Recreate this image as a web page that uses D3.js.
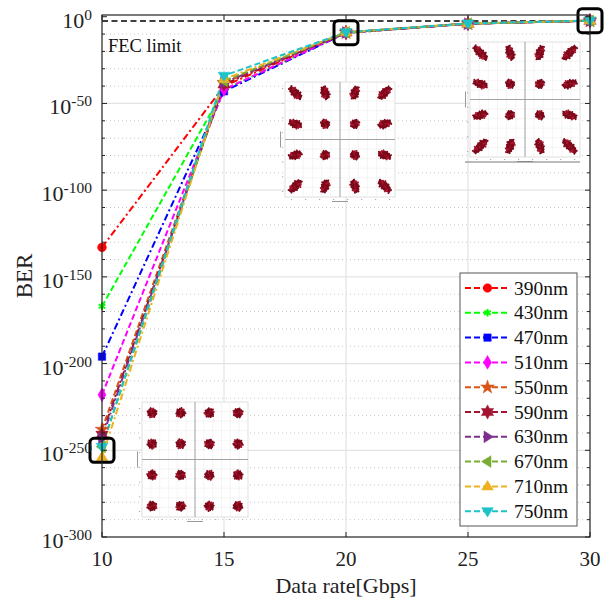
<!DOCTYPE html>
<html>
<head>
<meta charset="utf-8">
<script src="https://cdn.jsdelivr.net/npm/d3@7"></script>
<style>
  html, body { margin: 0; padding: 0; background: #fff; }
  svg, svg text { font-family: "Liberation Serif", "Times New Roman", "DejaVu Serif", serif; }
</style>
</head>
<body>
<svg id="chart" width="614" height="608"></svg>
<script>
// ---------------- data ----------------
const dataRates = [10, 15, 20, 25, 30];
const seriesNames = ["390nm", "430nm", "470nm", "510nm", "550nm", "590nm", "630nm", "670nm", "710nm", "750nm"];
const ber390 = [1e-133, 1e-40, 6e-10, 1e-4, 5e-3];
const ber430 = [1e-167, 1e-42, 5e-10, 1e-4, 5e-3];
const ber470 = [1e-196, 1e-43, 5e-10, 1e-4, 5e-3];
const ber510 = [1e-218, 1e-42, 6e-10, 1e-4, 5e-3];
const ber550 = [1e-238, 1e-38, 8e-10, 1e-4, 5e-3];
const ber590 = [1e-241, 1e-39, 8e-10, 1e-4, 5e-3];
const ber630 = [1e-243, 1e-38, 9e-10, 1e-4, 5e-3];
const ber670 = [1e-248, 1e-37, 9e-10, 1e-4, 5e-3];
const ber710 = [1e-254, 1e-36, 1e-9, 1.2e-4, 6e-3];
const ber750 = [1e-248, 1e-34, 1.2e-9, 1.3e-4, 6e-3];
const seriesValues = [ber390, ber430, ber470, ber510, ber550, ber590, ber630, ber670, ber710, ber750];
const fecLimit = 3.8e-3;
const xTickValues = [10, 15, 20, 25, 30];
const yTickExponents = [0, -50, -100, -150, -200, -250, -300];
const highlighted = [[10, 1e-250], [20, 6e-10], [30, 5e-3]];

// ---------------- styles ----------------
const FONT = "'Liberation Serif', 'Times New Roman', 'DejaVu Serif', serif";
const colors = ["#ff0000", "#00ff00", "#0000ff", "#ff00ff", "#d95319", "#a2142f", "#7e2f8e", "#77ac30", "#edb120", "#1cc3c8"];
const dashes = ["7,3,2,3", "6,3", "7,3,2,3", "6,3", "6,3", "7,3,2,3", "7,3,2,3", "6,3", "7,3,2,3", "6,3"];

const hexagram = {
  draw(ctx, size) {
    const R = Math.sqrt(size) * 0.75, r = R * 0.55;
    for (let i = 0; i < 12; i++) {
      const a = -Math.PI / 2 + i * Math.PI / 6;
      const rr = i % 2 === 0 ? R : r;
      const px = rr * Math.cos(a), py = rr * Math.sin(a);
      if (i === 0) ctx.moveTo(px, py); else ctx.lineTo(px, py);
    }
    ctx.closePath();
  }
};
const triRight = { draw(ctx, size) { const s = Math.sqrt(size) * 0.62; ctx.moveTo(s, 0); ctx.lineTo(-s * 0.6, -s); ctx.lineTo(-s * 0.6, s); ctx.closePath(); } };
const triLeft = { draw(ctx, size) { const s = Math.sqrt(size) * 0.62; ctx.moveTo(-s, 0); ctx.lineTo(s * 0.6, -s); ctx.lineTo(s * 0.6, s); ctx.closePath(); } };
const triUp = { draw(ctx, size) { const s = Math.sqrt(size) * 0.62; ctx.moveTo(0, -s); ctx.lineTo(s, s * 0.6); ctx.lineTo(-s, s * 0.6); ctx.closePath(); } };
const triDown = { draw(ctx, size) { const s = Math.sqrt(size) * 0.62; ctx.moveTo(0, s); ctx.lineTo(s, -s * 0.6); ctx.lineTo(-s, -s * 0.6); ctx.closePath(); } };
const symbols = [
  { type: d3.symbolCircle, size: 60 },
  { type: d3.symbolAsterisk, size: 40, stroke: true },
  { type: d3.symbolSquare, size: 55 },
  { type: d3.symbolDiamond, size: 55 },
  { type: d3.symbolStar, size: 60 },
  { type: hexagram, size: 90 },
  { type: triRight, size: 90 },
  { type: triLeft, size: 90 },
  { type: triUp, size: 90 },
  { type: triDown, size: 90 }
];

// ---------------- layout ----------------
const svg = d3.select("#chart").attr("font-family", FONT);
const L = 102, R = 590, T = 15, B = 537;
const x = d3.scaleLinear().domain([10, 30]).range([L, R]);
const y = d3.scaleLog().domain([1e-300, 10]).range([B, T]);

// grid
const grid = svg.append("g");
const minorExp = d3.range(-290, 1, 10).filter(e => e % 50 !== 0);
grid.selectAll(".minor").data(minorExp).join("line")
  .attr("x1", L).attr("x2", R)
  .attr("y1", e => y(Math.pow(10, e))).attr("y2", e => y(Math.pow(10, e)))
  .attr("stroke", "#c8c8c8").attr("stroke-width", 1).attr("stroke-dasharray", "1,3");
grid.selectAll(".major").data(yTickExponents.filter(e => e !== 0 && e !== -300)).join("line")
  .attr("x1", L).attr("x2", R)
  .attr("y1", e => y(Math.pow(10, e))).attr("y2", e => y(Math.pow(10, e)))
  .attr("stroke", "#e3e3e3").attr("stroke-width", 1.2);
grid.selectAll(".vmajor").data(xTickValues.slice(1, -1)).join("line")
  .attr("x1", d => x(d)).attr("x2", d => x(d))
  .attr("y1", T).attr("y2", B)
  .attr("stroke", "#e3e3e3").attr("stroke-width", 1.2);

// ---------------- constellation insets ----------------
function inset(x0, y0, w, h, k, ry) {
  const g = svg.append("g");
  g.append("rect").attr("x", x0).attr("y", y0).attr("width", w).attr("height", h)
    .attr("fill", "#fff").attr("stroke", "#d8d8d8").attr("stroke-width", 0.8);
  for (let i = 1; i < 12; i++) {
    g.append("line").attr("x1", x0 + w * i / 12).attr("x2", x0 + w * i / 12).attr("y1", y0).attr("y2", y0 + h)
      .attr("stroke", "#eeeeee").attr("stroke-width", 0.6);
    g.append("line").attr("y1", y0 + h * i / 12).attr("y2", y0 + h * i / 12).attr("x1", x0).attr("x2", x0 + w)
      .attr("stroke", "#eeeeee").attr("stroke-width", 0.6);
  }
  const cx = x0 + w / 2, cy = y0 + h / 2;
  g.append("line").attr("x1", cx).attr("x2", cx).attr("y1", y0).attr("y2", y0 + h).attr("stroke", "#9a9a9a").attr("stroke-width", 0.9);
  g.append("line").attr("y1", cy).attr("y2", cy).attr("x1", x0).attr("x2", x0 + w).attr("stroke", "#9a9a9a").attr("stroke-width", 0.9);
  for (let i = 0; i <= 7; i++) {
    g.append("rect").attr("x", x0 + 6 + i * (w - 12) / 7).attr("y", y0 + h + 2).attr("width", 1.2).attr("height", 1)
      .attr("fill", "#aaa");
    g.append("rect").attr("x", x0 - 3).attr("y", y0 + 6 + i * (h - 12) / 7).attr("width", 1.2).attr("height", 1)
      .attr("fill", "#aaa");
  }
  g.append("rect").attr("x", cx - 8).attr("y", y0 + h + 4).attr("width", 16).attr("height", 1).attr("fill", "#999");
  g.append("rect").attr("x", x0 - 5).attr("y", cy - 8).attr("width", 1).attr("height", 16).attr("fill", "#999");
  const lv = [-3, -1, 1, 3];
  const sx = w * 0.135, sy = h * 0.135;
  lv.forEach(a => lv.forEach(b => {
    const px = cx + a * sx, py = cy + b * sy;
    const d = Math.sqrt(a * a + b * b);
    const rx = 4.3 + k * (d - 1.414);
    const ang = Math.atan2(b, a) * 180 / Math.PI;
    const cg = g.append("g").attr("transform", `translate(${px},${py}) rotate(${ang})`);
    cg.append("ellipse").attr("rx", rx).attr("ry", ry).attr("fill", "#8c0d22");
    const n = 30;
    for (let j = 0; j < n; j++) {
      const t = j * 2.39996;
      const rr = Math.sqrt((j + 0.5) / n);
      cg.append("circle").attr("cx", rr * Math.cos(t) * (rx + 0.6)).attr("cy", rr * Math.sin(t) * (ry + 0.6))
        .attr("r", 1.0).attr("fill", j % 4 === 0 ? "#a8182f" : "#7a0818");
    }
  }));
  return g;
}
inset(142, 402, 106, 115, 0.05, 4.4);
inset(285, 82, 110, 115, 1.35, 3.9);
inset(470, 42, 110, 115, 1.8, 3.8);
svg.append("line").attr("x1", 465).attr("x2", 580).attr("y1", 162).attr("y2", 162).attr("stroke", "#777").attr("stroke-width", 1);

// FEC limit
svg.append("line").attr("x1", L).attr("x2", R).attr("y1", y(fecLimit)).attr("y2", y(fecLimit))
  .attr("stroke", "#000").attr("stroke-width", 1.6).attr("stroke-dasharray", "6,3.5");
svg.append("text").attr("x", 108).attr("y", 52).attr("font-family", FONT).attr("font-size", 18.5).attr("fill", "#111").text("FEC limit");

// ---------------- series ----------------
const line = d3.line().x((d, i) => x(dataRates[i])).y(d => y(d));
const sym = (i) => d3.symbol().type(symbols[i].type).size(symbols[i].size)();
const plot = svg.append("g");
seriesValues.forEach((vals, i) => {
  plot.append("path").attr("d", line(vals)).attr("fill", "none").attr("stroke", colors[i])
    .attr("stroke-width", 2).attr("stroke-dasharray", dashes[i]);
});
seriesValues.forEach((vals, i) => {
  plot.selectAll(null).data(vals).join("path")
    .attr("transform", (d, j) => `translate(${x(dataRates[j])},${y(d)})`)
    .attr("d", sym(i))
    .attr("fill", colors[i]).attr("stroke", colors[i]).attr("stroke-width", symbols[i].stroke ? 2 : 0.5);
});

// highlight boxes
svg.selectAll(".hbox").data(highlighted).join("rect")
  .attr("x", d => x(d[0]) - 12).attr("y", d => y(d[1]) - 12)
  .attr("width", 24).attr("height", 24).attr("rx", 4)
  .attr("fill", "none").attr("stroke", "#000").attr("stroke-width", 3);

// ---------------- axes ----------------
const ax = svg.append("g");
ax.append("rect").attr("x", L).attr("y", T).attr("width", R - L).attr("height", B - T)
  .attr("fill", "none").attr("stroke", "#222").attr("stroke-width", 1.2);
const yMaj = yTickExponents;
ax.selectAll(".ytl").data(yMaj).join("line").attr("x1", L).attr("x2", L + 5)
  .attr("y1", e => y(Math.pow(10, e))).attr("y2", e => y(Math.pow(10, e))).attr("stroke", "#222");
ax.selectAll(".ytr").data(yMaj).join("line").attr("x1", R).attr("x2", R - 5)
  .attr("y1", e => y(Math.pow(10, e))).attr("y2", e => y(Math.pow(10, e))).attr("stroke", "#222");
ax.selectAll(".ytlm").data(minorExp).join("line").attr("x1", L).attr("x2", L + 3)
  .attr("y1", e => y(Math.pow(10, e))).attr("y2", e => y(Math.pow(10, e))).attr("stroke", "#222");
ax.selectAll(".ytrm").data(minorExp).join("line").attr("x1", R).attr("x2", R - 3)
  .attr("y1", e => y(Math.pow(10, e))).attr("y2", e => y(Math.pow(10, e))).attr("stroke", "#222");
ax.selectAll(".xtb").data(xTickValues).join("line").attr("x1", d => x(d)).attr("x2", d => x(d))
  .attr("y1", B).attr("y2", B - 5).attr("stroke", "#222");
ax.selectAll(".xtt").data(xTickValues).join("line").attr("x1", d => x(d)).attr("x2", d => x(d))
  .attr("y1", T).attr("y2", T + 5).attr("stroke", "#222");

const ylab = ax.selectAll(".ylab").data(yTickExponents).join("text")
  .attr("x", 92).attr("y", e => y(Math.pow(10, e)) + 11)
  .attr("text-anchor", "end").attr("font-family", FONT).attr("font-size", 22).attr("fill", "#222");
ylab.append("tspan").text("10");
ylab.append("tspan").attr("dy", -8).attr("font-size", 15.5).text(e => e === 0 ? "0" : "-" + Math.abs(e));

ax.selectAll(".xlab").data(xTickValues).join("text")
  .attr("x", d => x(d)).attr("y", 566).attr("text-anchor", "middle")
  .attr("font-family", FONT).attr("font-size", 21).attr("fill", "#222").text(d => d);

svg.append("text").attr("x", 346).attr("y", 593).attr("text-anchor", "middle")
  .attr("font-family", FONT).attr("font-size", 22).attr("fill", "#222").text("Data rate[Gbps]");
svg.append("text").attr("transform", `translate(32,${(T + B) / 2}) rotate(-90)`).attr("text-anchor", "middle")
  .attr("font-family", FONT).attr("font-size", 23).attr("fill", "#222").text("BER");

// ---------------- legend ----------------
const lg = svg.append("g");
lg.append("rect").attr("x", 460).attr("y", 273).attr("width", 117).attr("height", 253)
  .attr("fill", "#fff").attr("stroke", "#555").attr("stroke-width", 1);
seriesNames.forEach((name, i) => {
  const cy = 288 + i * 24.8;
  lg.append("line").attr("x1", 465).attr("x2", 510).attr("y1", cy).attr("y2", cy)
    .attr("stroke", colors[i]).attr("stroke-width", 2).attr("stroke-dasharray", "6,3");
  lg.append("path").attr("transform", `translate(487.5,${cy})`).attr("d", sym(i))
    .attr("fill", colors[i]).attr("stroke", colors[i]).attr("stroke-width", symbols[i].stroke ? 2 : 0.5);
  lg.append("text").attr("x", 514).attr("y", cy + 6.5).attr("font-family", FONT).attr("font-size", 19.5).attr("fill", "#111").text(name);
});
</script>
</body>
</html>
